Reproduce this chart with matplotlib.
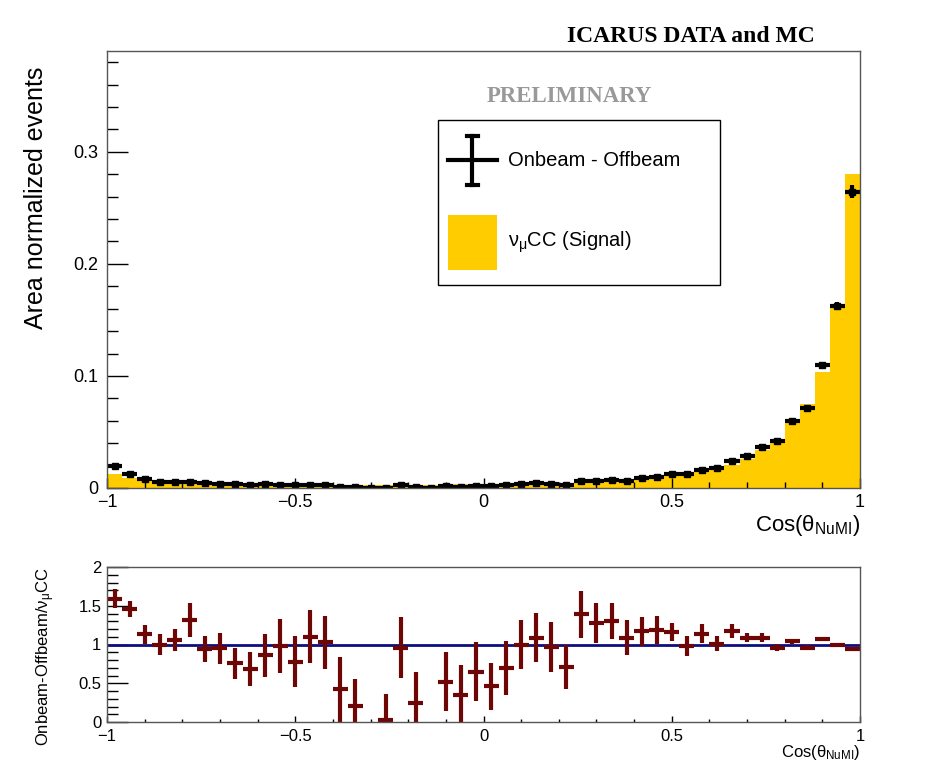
import numpy as np
import matplotlib
matplotlib.use("Agg")
import matplotlib.pyplot as plt
from matplotlib.patches import Rectangle
from matplotlib.lines import Line2D
from matplotlib.ticker import MultipleLocator

plt.rcParams['font.family'] = ['Liberation Sans', 'DejaVu Sans']
plt.rcParams['mathtext.fontset'] = 'custom'
plt.rcParams['mathtext.rm'] = 'Liberation Sans'
plt.rcParams['mathtext.it'] = 'Liberation Sans:italic'

# binning: 50 bins in cos(theta_NuMI)
bin_edges = np.linspace(-1, 1, 51)

# area normalised nu_mu CC signal MC (yellow)
mc_signal = [0.0128, 0.0086, 0.0069, 0.0058, 0.0049, 0.0040, 0.0045, 0.0042, 0.0045, 0.0043,
             0.0038, 0.0031, 0.0031, 0.0027, 0.0026, 0.0029, 0.0029, 0.0028, 0.0030, 0.0027,
             0.0028, 0.0030, 0.0031, 0.0032, 0.0033, 0.0035, 0.0036, 0.0038, 0.0039, 0.0041,
             0.0044, 0.0047, 0.0050, 0.0054, 0.0058, 0.0074, 0.0085, 0.0108, 0.0124, 0.0140,
             0.0179, 0.0207, 0.0262, 0.0339, 0.0437, 0.0580, 0.0750, 0.1035, 0.1620, 0.2800]

# onbeam - offbeam data
data_points = [0.0196, 0.0124, 0.0078, 0.0058, 0.0052, 0.0052, 0.0042, 0.0040, 0.0035, 0.0030,
               0.0033, 0.0030, 0.0024, 0.0030, 0.0027, 0.0012, 0.0006, -0.0003, 0.0001, 0.0026,
               0.0007, -0.0002, 0.0016, 0.0011, 0.0021, 0.0016, 0.0025, 0.0038, 0.0043, 0.0040,
               0.0031, 0.0065, 0.0065, 0.0070, 0.0063, 0.0086, 0.0101, 0.0125, 0.0122, 0.0160,
               0.0181, 0.0244, 0.0286, 0.0369, 0.0420, 0.0598, 0.0717, 0.1100, 0.1625, 0.2646]
data_err = [0.0015, 0.0009, 0.0008, 0.0008, 0.0007, 0.0009, 0.0008, 0.0008, 0.0009, 0.0010,
            0.0011, 0.0011, 0.0010, 0.0009, 0.0009, 0.0012, 0.0010, 0.0010, 0.0010, 0.0011,
            0.0011, 0.0011, 0.0012, 0.0012, 0.0013, 0.0011, 0.0013, 0.0012, 0.0012, 0.0013,
            0.0013, 0.0014, 0.0013, 0.0012, 0.0013, 0.0014, 0.0015, 0.0013, 0.0016, 0.0017,
            0.0018, 0.0019, 0.0016, 0.0020, 0.0022, 0.0020, 0.0022, 0.0021, 0.0033, 0.0056]

# ratio panel (missing bins fall below zero)
ratio = [1.59, 1.46, 1.13, 1.00, 1.06, 1.32, 0.94, 0.95, 0.76, 0.68,
         0.86, 0.98, 0.78, 1.10, 1.03, 0.42, 0.21, np.nan, 0.03, 0.96,
         0.25, np.nan, 0.52, 0.35, 0.65, 0.46, 0.70, 1.00, 1.09, 0.97,
         0.71, 1.39, 1.28, 1.30, 1.09, 1.17, 1.19, 1.16, 0.98, 1.14,
         1.01, 1.18, 1.09, 1.09, 0.96, 1.04, 0.96, 1.07, 0.99, 0.94]
ratio_err = [0.12, 0.10, 0.12, 0.13, 0.14, 0.22, 0.17, 0.20, 0.20, 0.22,
             0.28, 0.35, 0.33, 0.34, 0.34, 0.42, 0.35, 0.35, 0.33, 0.39,
             0.40, 0.40, 0.38, 0.38, 0.38, 0.30, 0.35, 0.32, 0.32, 0.32,
             0.29, 0.30, 0.26, 0.23, 0.22, 0.19, 0.18, 0.12, 0.13, 0.12,
             0.10, 0.09, 0.06, 0.06, 0.05, 0.03, 0.03, 0.02, 0.02, 0.02]

centers = 0.5 * (bin_edges[:-1] + bin_edges[1:])
half_w = 0.5 * (bin_edges[1] - bin_edges[0])

W, H = 953, 763
fig = plt.figure(figsize=(W / 100, H / 100), dpi=100)
ax = fig.add_axes([107 / W, 1 - 488 / H, 753 / W, 437 / H])
ax2 = fig.add_axes([107 / W, 1 - 722 / H, 753 / W, 155 / H])


def fx(px):
    return px / W


def fy(py):
    return 1 - py / H


# --- top panel ---
ax.stairs(mc_signal, bin_edges, fill=True, color='#ffcc00', linewidth=0)
ax.errorbar(centers, data_points, xerr=half_w, yerr=data_err, fmt='s', ms=4,
            color='black', elinewidth=3, capsize=0)
ax.set_xlim(-1, 1)
ax.set_ylim(0, 0.39)

for a in (ax, ax2):
    for s in a.spines.values():
        s.set_color('#555555')
        s.set_linewidth(1.0)
    a.xaxis.set_major_locator(MultipleLocator(0.5))
    a.xaxis.set_minor_locator(MultipleLocator(0.1))
    a.tick_params(which='both', direction='in', top=False, right=False, colors='black')

ax.yaxis.set_minor_locator(MultipleLocator(0.02))
ax.tick_params(axis='y', which='major', length=15, width=1, labelsize=13, pad=6)
ax.tick_params(axis='y', which='minor', length=8, width=1)
ax.tick_params(axis='x', which='major', length=7, width=1, labelsize=13, pad=4)
ax.tick_params(axis='x', which='minor', length=4, width=1)
ax.set_yticks([0, 0.1, 0.2, 0.3])
ax.set_yticklabels(['0', '0.1', '0.2', '0.3'])
ax.set_xticks([-1, -0.5, 0, 0.5, 1])
ax.set_xticklabels(['\u22121', '\u22120.5', '0', '0.5', '1'])

ax.set_ylabel('Area normalized events', fontsize=18)
ax.yaxis.set_label_coords(-0.078, 0.665)
ax.text(1.0, -0.058, 'Cos(\u03b8$_{\\mathrm{NuMI}}$)', transform=ax.transAxes,
        ha='right', va='top', fontsize=16)

fig.text(815 / W, 1 - 37 / H, 'ICARUS DATA and MC', ha='right', va='center',
         fontsize=17, fontweight='bold', family='Liberation Serif')
fig.text(569 / W, 1 - 97 / H, 'PRELIMINARY', ha='center', va='center',
         fontsize=16.5, fontweight='bold', family='Liberation Serif', color='#999999')

# legend box drawn by hand to match the ROOT TLegend layout
fig.add_artist(Rectangle((fx(438), fy(285)), fx(720) - fx(438), fy(120) - fy(285),
                         transform=fig.transFigure, facecolor='white', edgecolor='black',
                         linewidth=1.0, zorder=5))
lw_leg = 3
fig.add_artist(Line2D([fx(448), fx(497)], [fy(160), fy(160)], transform=fig.transFigure,
                      color='black', linewidth=lw_leg, zorder=6))
fig.add_artist(Line2D([fx(472.5), fx(472.5)], [fy(136), fy(185)], transform=fig.transFigure,
                      color='black', linewidth=lw_leg, zorder=6))
for cap_y in (136, 185):
    fig.add_artist(Line2D([fx(467), fx(478)], [fy(cap_y), fy(cap_y)],
                          transform=fig.transFigure, color='black', linewidth=lw_leg, zorder=6))
fig.add_artist(Rectangle((fx(448), fy(270)), fx(497) - fx(448), fy(215) - fy(270),
                         transform=fig.transFigure, facecolor='#ffcc00', edgecolor='none',
                         zorder=6))
fig.text(fx(508), fy(160), 'Onbeam - Offbeam', ha='left', va='center', fontsize=14.5,
         zorder=7)
fig.text(fx(508), fy(242), '\u03bd$_{\\mathrm{\u03bc}}$CC (Signal)', ha='left', va='center',
         fontsize=14.5, zorder=7)

# --- ratio panel ---
ax2.axhline(1.0, color='#0d0d80', linewidth=2)
ax2.errorbar(centers, ratio, xerr=half_w, yerr=ratio_err, fmt='none',
             ecolor='#6e0606', elinewidth=3, capsize=0)
ax2.set_xlim(-1, 1)
ax2.set_ylim(0, 2)
ax2.yaxis.set_minor_locator(MultipleLocator(0.1))
ax2.tick_params(axis='y', which='major', length=15, width=1, labelsize=12, pad=4)
ax2.tick_params(axis='y', which='minor', length=8, width=1)
ax2.tick_params(axis='x', which='major', length=4, width=1, labelsize=12, pad=5)
ax2.tick_params(axis='x', which='minor', length=2.5, width=1)
ax2.set_yticks([0, 0.5, 1, 1.5, 2])
ax2.set_yticklabels(['0', '0.5', '1', '1.5', '2'])
ax2.set_xticks([-1, -0.5, 0, 0.5, 1])
ax2.set_xticklabels(['\u22121', '\u22120.5', '0', '0.5', '1'])
ax2.set_ylabel('Onbeam-Offbeam/\u03bd$_{\\mathrm{\u03bc}}$CC', fontsize=12)
ax2.yaxis.set_label_coords(-0.066, 0.42)
ax2.text(1.0, -0.135, 'Cos(\u03b8$_{\\mathrm{NuMI}}$)', transform=ax2.transAxes,
         ha='right', va='top', fontsize=12)

fig.savefig('out.png', dpi=100)
